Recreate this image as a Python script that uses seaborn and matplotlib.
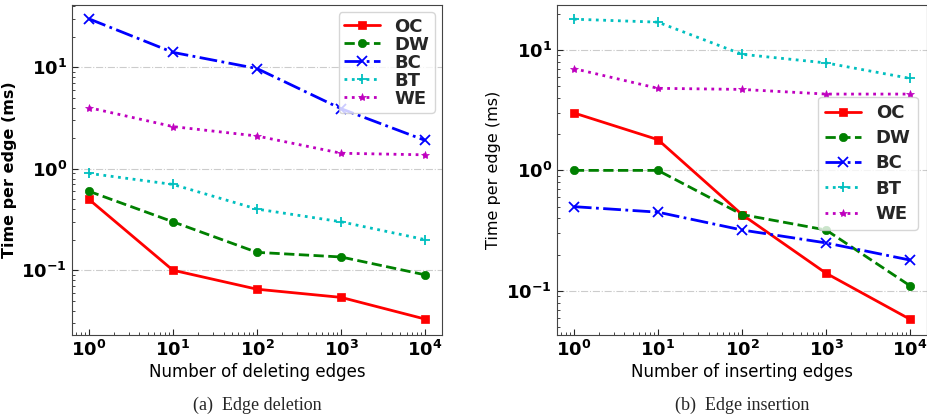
import numpy as np
import pandas as pd
import matplotlib
matplotlib.use('Agg')
import matplotlib.pyplot as plt
import seaborn as sns

sns.set_style('ticks')
plt.rcParams['font.family'] = ['DejaVu Sans']

edges = [1, 10, 100, 1000, 10000]
methods = ['OC', 'DW', 'BC', 'BT', 'WE']

# edge deletion
del_oc = [0.5, 0.1, 0.065, 0.054, 0.033]
del_dw = [0.6, 0.3, 0.15, 0.135, 0.09]
del_bc = [30, 14, 9.7, 3.9, 1.9]
del_bt = [0.9, 0.7, 0.4, 0.3, 0.2]
del_we = [4.0, 2.6, 2.1, 1.42, 1.37]

# edge insertion
ins_oc = [3.0, 1.8, 0.43, 0.14, 0.058]
ins_dw = [1.0, 1.0, 0.43, 0.32, 0.11]
ins_bc = [0.5, 0.45, 0.32, 0.25, 0.18]
ins_bt = [18, 17, 9.2, 7.8, 5.8]
ins_we = [7.0, 4.8, 4.7, 4.3, 4.3]

colors = ['r', 'g', 'b', 'c', 'm']
styles = ['-', '--', '-.', ':', ':']
marks = ['s', 'o', 'x', '+', '*']

def make_df(vals):
    rows = []
    for m, v in zip(methods, vals):
        for e, t in zip(edges, v):
            rows.append({'edges': e, 'time': t, 'method': m})
    return pd.DataFrame(rows)

df_del = make_df([del_oc, del_dw, del_bc, del_bt, del_we])
df_ins = make_df([ins_oc, ins_dw, ins_bc, ins_bt, ins_we])

fig = plt.figure(figsize=(9.28, 4.2), dpi=100)
ax1 = fig.add_axes([72/928, 85/420, 370/928, 330/420])
ax2 = fig.add_axes([557/928, 85/420, 370/928, 330/420])

for ax, d in zip([ax1, ax2], [df_del, df_ins]):
    for m, c, ls, mk in zip(methods, colors, styles, marks):
        sub = d[d['method'] == m]
        sns.lineplot(data=sub, x='edges', y='time', ax=ax, color=c, linestyle=ls,
                     marker=mk, markersize=6 if mk in 's*o' else 6.5, linewidth=2,
                     markeredgewidth=1.3 if mk in 'x+' else 0.5, markeredgecolor=c,
                     label=m)
    ax.set_xscale('log')
    ax.set_yscale('log')
    ax.set_xticks(edges)
    ax.tick_params(axis='both', which='both', direction='in', labelsize=13, labelcolor='black')
    ax.tick_params(axis='both', which='major', length=4)
    ax.tick_params(axis='both', which='minor', length=2)
    ax.yaxis.grid(True, which='major', linestyle='-.', color='#cccccc', linewidth=0.8)
    for lab in ax.get_xticklabels() + ax.get_yticklabels():
        lab.set_fontweight('bold')
    for sp in ax.spines.values():
        sp.set_color('#444444')

ax1.set_ylim(0.023, 41)
ax2.set_ylim(0.043, 23.6)

ax1.set_xlabel('Number of deleting edges', fontsize=12, color='black', labelpad=2)
ax2.set_xlabel('Number of inserting edges', fontsize=12, color='black', labelpad=2)
ax1.set_ylabel('Time per edge (ms)', fontsize=11.5, fontweight='bold', color='black', labelpad=3)
ax2.set_ylabel('Time per edge (ms)', fontsize=11.5, color='black', labelpad=4)

leg1 = ax1.legend(loc='upper right', handlelength=2.0, labelspacing=0.0,
                  borderpad=0.3, handletextpad=0.8, borderaxespad=0.4,
                  prop={'size': 13, 'weight': 'bold'})
leg2 = ax2.legend(loc='center right', bbox_to_anchor=(1.0, 0.52), handlelength=2.0,
                  labelspacing=0.4, borderpad=0.4, handletextpad=0.8,
                  prop={'size': 13, 'weight': 'bold'})

fig.text((72 + 185)/928, 15/420, '(a)  Edge deletion', ha='center', va='center',
         fontsize=13, family='Liberation Serif')
fig.text((557 + 185)/928, 15/420, '(b)  Edge insertion', ha='center', va='center',
         fontsize=13, family='Liberation Serif')

fig.savefig('out.png', dpi=100)
